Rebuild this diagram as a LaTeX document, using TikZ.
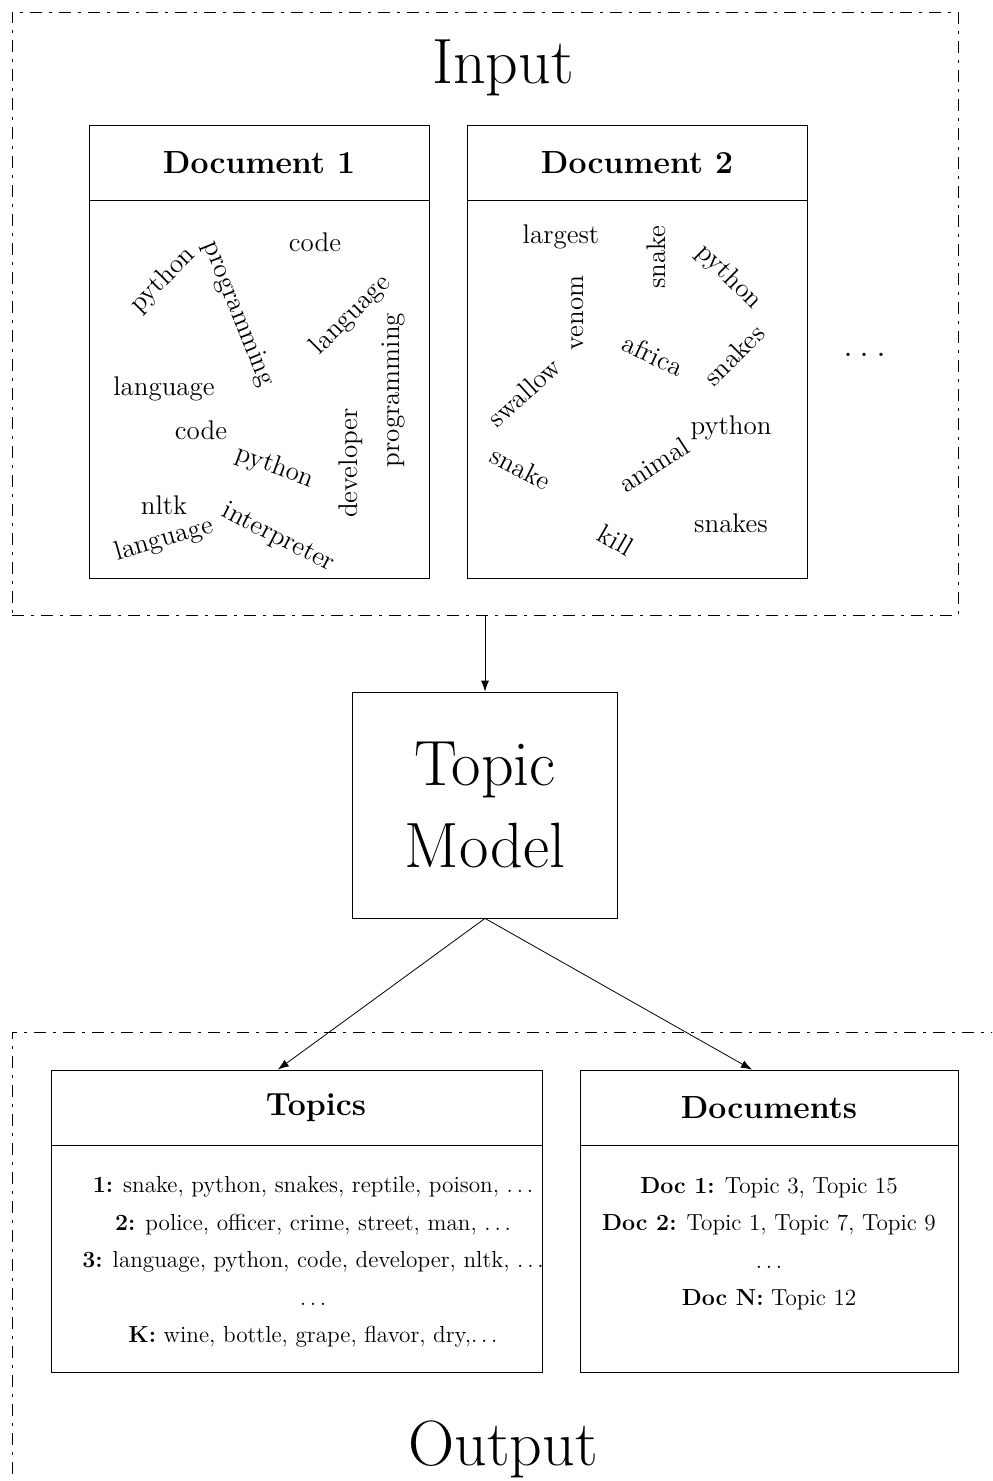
\documentclass[tikz,border=0pt]{standalone}
\usepackage{tikz}
\usetikzlibrary{positioning,arrows.meta,calc}
\newcommand{\spreaddots}{.\kern\fontdimen3\font.\kern\fontdimen3\font.}
\tikzset{
  frame/.style={
    draw,
    dash pattern=on 6pt off 3.5pt on 1.5pt off 3.5pt,
    inner sep=0pt
  },
  boxhead/.style={
    draw,
    minimum width=#1,
    minimum height=37.5pt,
    inner sep=0pt,
    font=\fontsize{16}{19}\selectfont\bfseries
  },
  boxbody/.style={
    draw,
    minimum width=#1,
    inner sep=0pt
  },
  headtext/.style={
    inner sep=0pt,
    font=\fontsize{16}{19}\selectfont\bfseries
  },
  word/.style={
    inner sep=0pt,
    font=\fontsize{13.5}{16}\selectfont
  },
  title/.style={
    font=\fontsize{32}{41}\selectfont
  },
  listtext/.style={
    align=center,
    inner sep=0pt,
    font=\fontsize{11.6}{18.75}\selectfont
  },
  arrow/.style={
    -{Latex[length=5.5pt,width=4pt]}
  }
}

\begin{document}
\begin{tikzpicture}[x=0.5pt,y=-0.5pt]

  \useasboundingbox (0,0) rectangle (992,1481);
  \clip (0,0) rectangle (992,1481);

  % Input frame
  \node[frame, minimum width=473pt, minimum height=301.5pt] (inputframe) at (485,313.5) {};
  \node[title, anchor=base] (inputlabel) at (503,84) {Input};

  % Document 1
  \node[boxhead=170pt] (doc1head) at (259,162.5) {Document 1};
  \node[boxbody=170pt, minimum height=189pt, below=0pt of doc1head] (doc1body) {};
  \foreach \w/\x/\y/\a [count=\i] in {code/315/242/0, python/163/280/45,
      programming/238/314/-68, language/351/315/45, programming/393/390/90,
      language/164/389/0, code/201/430/0, python/275/467/-20,
      developer/351/463/90, nltk/164/505/0, language/164/540/16,
      interpreter/278/538/-27} {
    \node[word, rotate=\a] (d1w\i) at (\x,\y) {\w};
  }

  % Document 2
  \node[boxhead=170pt] (doc2head) at (637,162.5) {Document 2};
  \node[boxbody=170pt, minimum height=189pt, below=0pt of doc2head] (doc2body) {};
  \foreach \w/\x/\y/\a [count=\i] in {largest/561/237/0, snake/656/257/90,
      python/729/277/-45, venom/578/313/90, africa/653/355/-25,
      snakes/734/355/45, swallow/524/392/42, python/731/428/0,
      snake/521/468/-27, animal/654/465/33, snakes/731/523/0,
      kill/616/540/-30} {
    \node[word, rotate=\a] (d2w\i) at (\x,\y) {\w};
  }

  \node[anchor=base, font=\fontsize{20}{24}\selectfont] (moredocs) at (865,357) {\spreaddots};

  % Topic model
  \node[draw, title, align=center, minimum width=132.5pt, minimum height=113pt] (topicmodel) at (485,805) {Topic\\Model};

  % Output frame
  \node[frame, minimum width=508pt, minimum height=248pt] (outputframe) at (520,1280) {};
  \node[title, anchor=base] (outputlabel) at (503,1465) {Output};

  % Topics
  \node[boxhead=245.5pt] (topicshead) at (296.5,1107.5) {};
  \node[headtext] (topicstitle) at (316,1107.5) {Topics};
  \node[boxbody=245.5pt, minimum height=113.5pt, below=0pt of topicshead] (topicsbody) {};
  \node[listtext, anchor=north] (topiclist) at (313,1176) {
    \textbf{1:} snake, python, snakes, reptile, poison, \spreaddots\\
    \textbf{2:} police, officer, crime, street, man, \spreaddots\\
    \textbf{3:} language, python, code, developer, nltk, \spreaddots\\
    \spreaddots\\
    \textbf{K:} wine, bottle, grape, flavor, dry,\spreaddots};

  % Documents
  \node[boxhead=189pt] (docshead) at (769,1107.5) {Documents};
  \node[boxbody=189pt, minimum height=113.5pt, below=0pt of docshead] (docsbody) {};
  \node[listtext, anchor=north] (doclist) at (769,1177) {
    \textbf{Doc 1:} Topic 3, Topic 15\\
    \textbf{Doc 2:} Topic 1, Topic 7, Topic 9\\
    \spreaddots\\
    \textbf{Doc N:} Topic 12};

  % Connections
  \draw[arrow] (inputframe.south) -- (topicmodel.north);
  \draw[arrow] (topicmodel.south) -- ($(topicshead.north west)!0.462!(topicshead.north east)$);
  \draw[arrow] (topicmodel.south) -- ($(docshead.north west)!0.455!(docshead.north east)$);

\end{tikzpicture}
\end{document}
